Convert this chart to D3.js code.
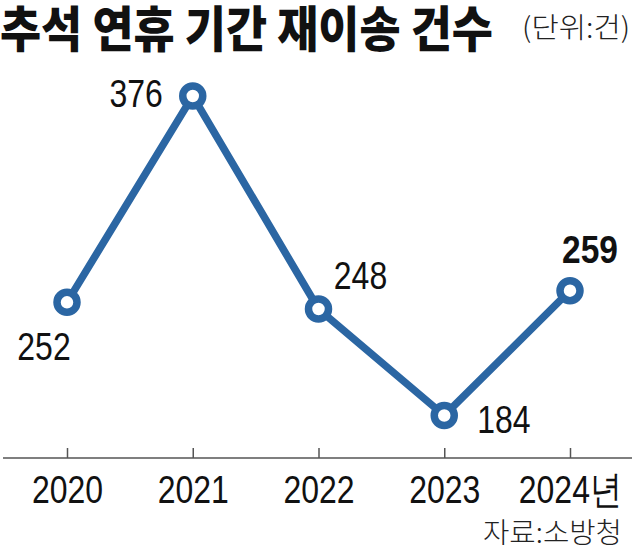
<!DOCTYPE html>
<html><head><meta charset="utf-8">
<script src="https://cdn.jsdelivr.net/npm/d3@7"></script>
<style>body{margin:0;background:#fff}svg{display:block}</style>
</head><body>
<script>
const years = ["2020","2021","2022","2023","2024"];
const yearLabels = ["2020","2021","2022","2023","2024년"];
const values = [252, 376, 248, 184, 259];
const title = "추석 연휴 기간 재이송 건수";
const unit = "(단위:건)";
const source = "자료:소방청";

const W = 632, H = 551;
const svg = d3.select("body").append("svg").attr("width", W).attr("height", H);
const x = d3.scalePoint().domain(years).range([67, 570]);
const y = d3.scaleLinear().domain([184, 376]).range([415.5, 96]);
const blue = "#2b66a3";
const numFont = "'Liberation Sans',Arial,sans-serif";
const krFont = "'Noto Sans CJK KR','Noto Sans',sans-serif";
const narrow = 0.82;

const tt = svg.append("text").attr("font-family", krFont)
  .attr("font-weight", 900).attr("font-size", 49).attr("fill", "#111").text(title);
const tw = tt.node().getComputedTextLength();
tt.attr("transform", `translate(0,47) scale(${493 / tw},1)`);

const ut = svg.append("text").attr("text-anchor", "end").attr("font-family", krFont)
  .attr("font-weight", 300).attr("font-size", 28).attr("fill", "#222").text(unit);
const uw = ut.node().getComputedTextLength();
ut.attr("transform", `translate(630,38) scale(${108 / uw},1)`);

// axis
const axisY = 458;
const axis = d3.axisBottom(x).tickSize(-10).tickSizeOuter(0)
  .tickFormat((d, i) => yearLabels[i]);
const g = svg.append("g").attr("transform", `translate(0,${axisY})`).call(axis);
g.select(".domain").remove();
g.append("line").attr("x1", 3).attr("x2", W).attr("stroke", "#555").attr("stroke-width", 1.5);
g.selectAll(".tick line").attr("stroke", "#555").attr("stroke-width", 1.5);
g.selectAll(".tick text").attr("font-family", numFont).attr("font-size", 39).attr("fill", "#111")
  .attr("y", 45).attr("dy", 0).attr("transform", `scale(${narrow},1)`);

const st = svg.append("text").attr("text-anchor", "end").attr("font-family", krFont)
  .attr("font-weight", 300).attr("font-size", 28).attr("fill", "#222").text(source);
const sw = st.node().getComputedTextLength();
st.attr("transform", `translate(622,543) scale(${139 / sw},1)`);

const pts = years.map((yr, i) => ({yr, v: values[i]}));
svg.append("path").datum(pts).attr("fill", "none").attr("stroke", blue).attr("stroke-width", 7.5)
  .attr("stroke-linejoin", "miter")
  .attr("d", d3.line().x(d => x(d.yr)).y(d => y(d.v)));
svg.selectAll("circle").data(pts).join("circle")
  .attr("cx", d => x(d.yr)).attr("cy", d => y(d.v)).attr("r", 10)
  .attr("fill", "#fff").attr("stroke", blue).attr("stroke-width", 7.5);

// label offsets relative to point: [dx (anchor point), baseline dy, anchor]
const offs = [[-23, 58, "middle"], [-30, 11, "end"], [42, -20, "middle"], [33, 17, "start"], [20, -28, "middle"]];
svg.selectAll("text.val").data(pts).join("text").attr("class", "val")
  .attr("transform", (d, i) => `translate(${x(d.yr) + offs[i][0]},${y(d.v) + offs[i][1]}) scale(${i === 4 ? 0.86 : narrow},1)`)
  .attr("text-anchor", (d, i) => offs[i][2])
  .attr("font-family", numFont).attr("font-size", 39).attr("fill", "#111")
  .attr("font-weight", (d, i) => i === 4 ? 700 : 400)
  .text(d => d.v);
</script>
</body></html>
